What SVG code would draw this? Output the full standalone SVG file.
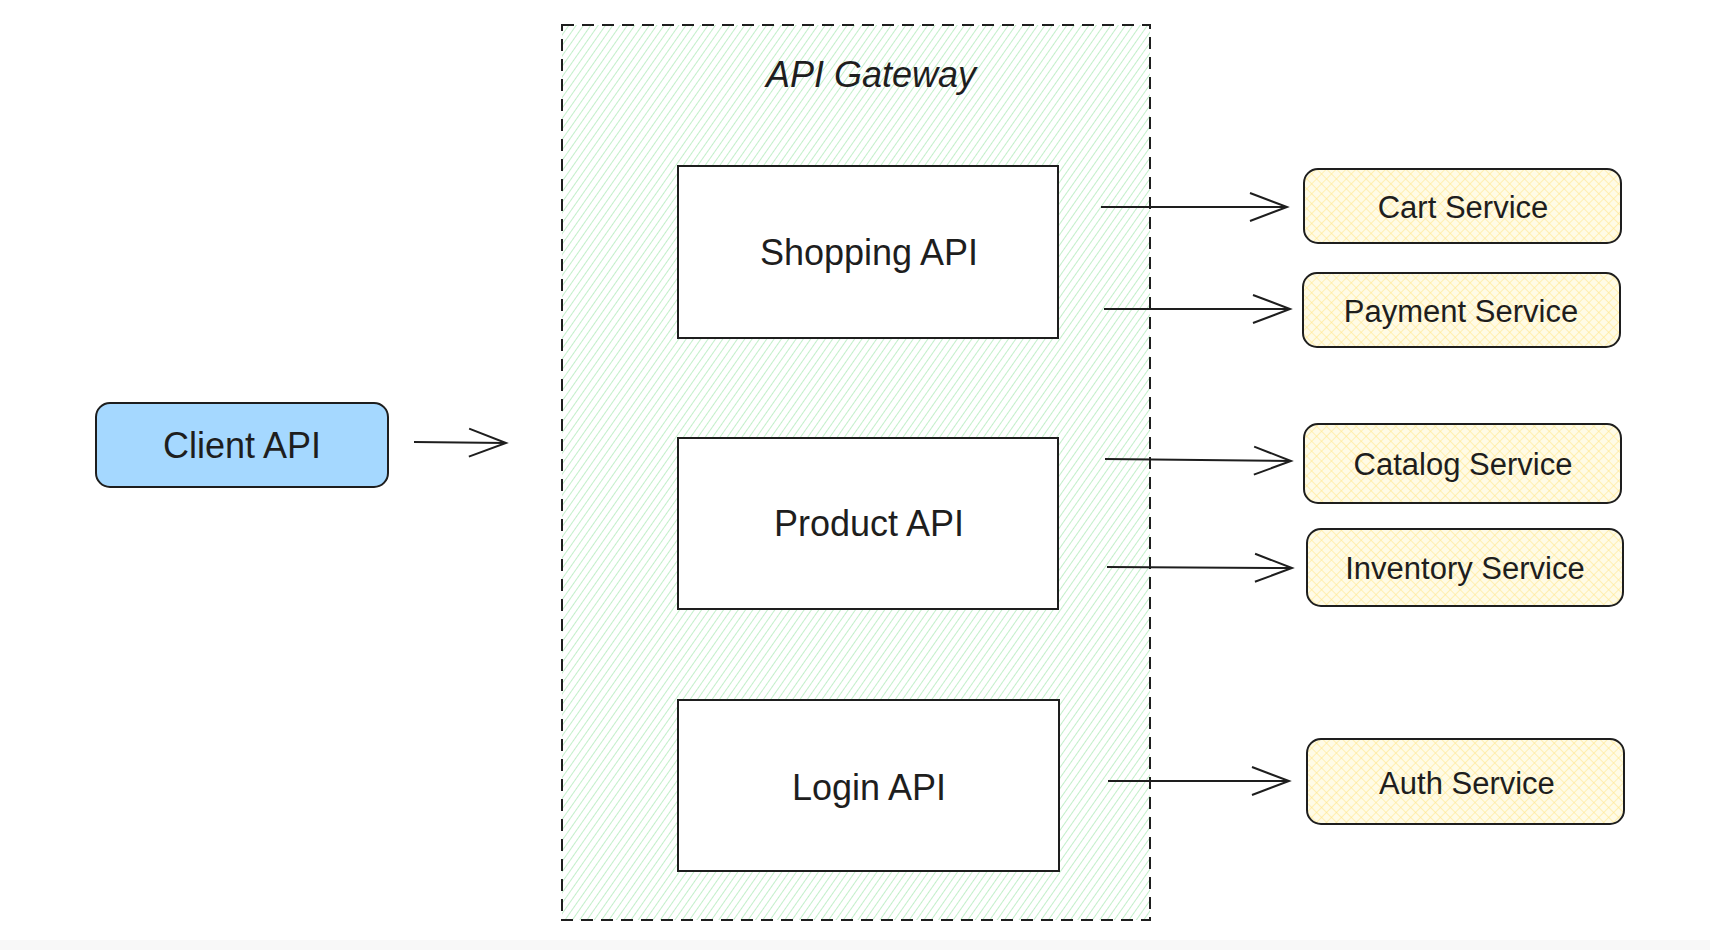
<svg xmlns="http://www.w3.org/2000/svg" width="1710" height="950" viewBox="0 0 1710 950">
<style>
.lbl{font-family:"Liberation Sans",Arial,sans-serif;fill:#1e1e1e;text-anchor:middle;dominant-baseline:central}
.big{font-size:36px}
.svc{font-size:31px}
.box{fill:#ffffff;stroke:#1e1e1e;stroke-width:2}
.sv{fill:url(#xhatch);stroke:#1e1e1e;stroke-width:2}
.conn{stroke:#1e1e1e;stroke-width:2;fill:none;marker-end:url(#arr)}
</style>
<defs>
<pattern id="ghatch" width="6" height="6" patternUnits="userSpaceOnUse" patternTransform="rotate(35)">
<line x1="0" y1="0" x2="0" y2="6" stroke="#a9e8b3" stroke-width="1.4"/>
</pattern>
<pattern id="xhatch" width="7" height="7" patternUnits="userSpaceOnUse" patternTransform="rotate(45)">
<rect width="7" height="7" fill="#fffbe6"/>
<line x1="0" y1="0" x2="0" y2="7" stroke="#ffe88f" stroke-width="1.2"/>
<line x1="0" y1="0" x2="7" y2="0" stroke="#ffe88f" stroke-width="1.2"/>
</pattern>
<marker id="arr" markerUnits="userSpaceOnUse" markerWidth="50" markerHeight="40" refX="40" refY="20" orient="auto">
<path d="M3,6 L40,20 L3,34" fill="none" stroke="#1e1e1e" stroke-width="2"/>
</marker>
</defs>
<rect width="1710" height="950" fill="#ffffff"/>
<rect x="0" y="940" width="1710" height="10" fill="#f8f8f8"/>

<g id="gateway">
<rect x="562" y="25" width="588" height="895" fill="url(#ghatch)" stroke="#1e1e1e" stroke-width="2" stroke-dasharray="12 8"/>
<text x="871" y="74" font-family="'Liberation Sans',sans-serif" font-style="italic" font-size="36" fill="#1e1e1e" text-anchor="middle" dominant-baseline="central">API Gateway</text>
</g>

<g id="shopping-api">
<rect class="box" x="678" y="166" width="380" height="172"/>
<text class="lbl big" x="869" y="252">Shopping API</text>
</g>
<g id="product-api">
<rect class="box" x="678" y="438" width="380" height="171"/>
<text class="lbl big" x="869" y="523">Product API</text>
</g>
<g id="login-api">
<rect class="box" x="678" y="700" width="381" height="171"/>
<text class="lbl big" x="869" y="787">Login API</text>
</g>

<g id="client-api">
<rect x="96" y="403" width="292" height="84" rx="14" fill="#a5d8ff" stroke="#1e1e1e" stroke-width="2"/>
<text class="lbl big" x="242" y="445">Client API</text>
</g>

<g id="cart-service">
<rect class="sv" x="1304" y="169" width="317" height="74" rx="14"/>
<text class="lbl svc" x="1463" y="207">Cart Service</text>
</g>
<g id="payment-service">
<rect class="sv" x="1303" y="273" width="317" height="74" rx="14"/>
<text class="lbl svc" x="1461" y="311">Payment Service</text>
</g>
<g id="catalog-service">
<rect class="sv" x="1304" y="424" width="317" height="79" rx="14"/>
<text class="lbl svc" x="1463" y="464">Catalog Service</text>
</g>
<g id="inventory-service">
<rect class="sv" x="1307" y="529" width="316" height="77" rx="14"/>
<text class="lbl svc" x="1465" y="568">Inventory Service</text>
</g>
<g id="auth-service">
<rect class="sv" x="1307" y="739" width="317" height="85" rx="14"/>
<text class="lbl svc" x="1467" y="783">Auth Service</text>
</g>

<g id="connectors">
<path class="conn" d="M414,442 L506,443"/>
<path class="conn" d="M1101,207 L1287,207"/>
<path class="conn" d="M1104,309 L1290,309"/>
<path class="conn" d="M1105,459 L1291,461"/>
<path class="conn" d="M1107,567 L1292,568"/>
<path class="conn" d="M1108,781 L1289,781"/>
</g>
</svg>
